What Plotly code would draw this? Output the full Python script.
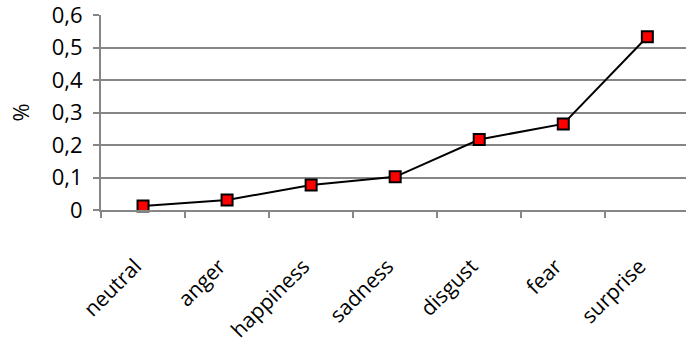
import plotly.graph_objects as go

emotions = ["neutral", "anger", "happiness", "sadness", "disgust", "fear", "surprise"]
shares = [0.012, 0.031, 0.077, 0.102, 0.217, 0.265, 0.533]
y_ticks = [0, 0.1, 0.2, 0.3, 0.4, 0.5, 0.6]

font_family = "Open Sans, Liberation Sans, sans-serif"
grid_color = "#868686"
pad = "\u00a0\u00a0"  # nudges the slanted labels a little left of their ticks

fig = go.Figure(
    go.Scatter(
        x=emotions,
        y=shares,
        mode="lines+markers",
        line=dict(color="black", width=2),
        marker=dict(symbol="square", size=11, color="#ff0000",
                    line=dict(color="black", width=2)),
        cliponaxis=False,
    )
)

fig.update_layout(
    width=686,
    height=360,
    margin=dict(l=101, r=0, t=15, b=150),
    paper_bgcolor="white",
    plot_bgcolor="white",
    separators=", ",
    showlegend=False,
    font=dict(family=font_family, size=18, color="black"),
)

fig.update_xaxes(
    type="category",
    range=[-0.5, 6.46],
    tickvals=emotions,
    ticktext=[e + pad for e in emotions],
    showgrid=False,
    showline=True,
    linecolor=grid_color,
    linewidth=2,
    ticks="outside",
    tickson="boundaries",
    ticklen=6,
    tickcolor=grid_color,
    tickwidth=1.5,
    tickangle=-45,
    tickfont=dict(size=21),
    ticklabelstandoff=26,
)

fig.update_yaxes(
    range=[0, 0.6],
    tickvals=y_ticks,
    ticktext=[f"{v:g}".replace(".", ",") for v in y_ticks],
    showgrid=True,
    gridcolor=grid_color,
    gridwidth=1.5,
    showline=True,
    linecolor=grid_color,
    linewidth=2,
    ticks="outside",
    ticklen=6,
    tickcolor=grid_color,
    tickwidth=1.5,
    zeroline=False,
    tickfont=dict(size=22),
    ticklabelstandoff=6,
    ticklabeloverflow="allow",
    title=dict(text="%", font=dict(size=22), standoff=16),
)

fig.write_html("out.html")
